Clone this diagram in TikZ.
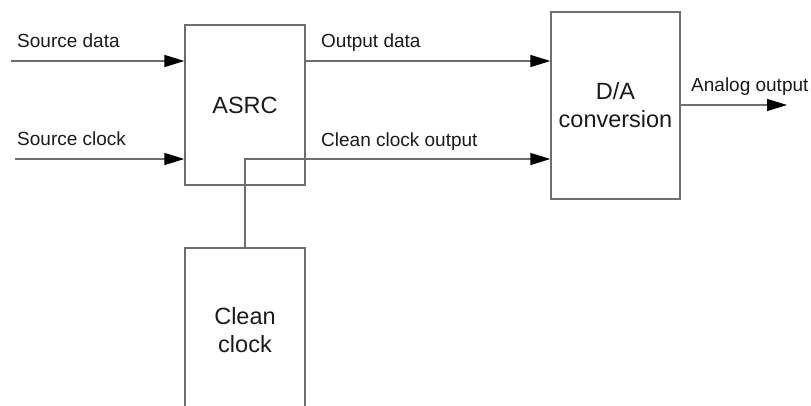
\documentclass[tikz,border=0pt]{standalone}
\usepackage{fontspec}
\setmainfont{Liberation Sans}
\usetikzlibrary{arrows.meta,calc}
\definecolor{linegray}{HTML}{6E6E6E}
\definecolor{textgray}{HTML}{1A1A1A}
\tikzset{
  blockbox/.style={draw=linegray, line width=1.3pt, inner sep=0pt, text=textgray,
    font=\fontsize{23.5}{28}\selectfont, align=center},
  conn/.style={draw=linegray, line width=1.3pt},
  arr/.style={conn, -{Triangle[length=20pt,width=12pt,color=black]}},
  lbl/.style={anchor=base west, inner sep=0pt, text=textgray, font=\fontsize{19}{22}\selectfont}
}
\begin{document}
\begin{tikzpicture}[x=1pt,y=1pt]
\useasboundingbox (0,0) rectangle (811,-405);
\clip (0,0) rectangle (811,-405);
\node[blockbox, minimum width=120pt, minimum height=160pt] (asrc) at (245,-105) {ASRC};
\node[blockbox, minimum width=129pt, minimum height=187pt] (da) at (615.5,-105.5) {D/A\\conversion};
\node[blockbox, minimum width=120pt, minimum height=164pt] (cc) at (245,-330) {Clean\\clock};
\coordinate (sd) at (11,-61);
\coordinate (sc) at (15,-159);
\coordinate (ao) at (787,-105);
\draw[arr] (sd) -- (sd -| asrc.west);
\draw[arr] (sc) -- (sc -| asrc.west);
\draw[arr] (sd -| asrc.east) -- (sd -| da.west);
\draw[arr] (cc.north) |- (sc -| da.west);
\draw[arr] (da.east |- ao) -- (ao);
\node[lbl] (lsd) at (17,-47) {Source data};
\node[lbl] (lsc) at (17,-145) {Source clock};
\node[lbl] (lod) at (321,-47) {Output data};
\node[lbl] (lcc) at (321,-146) {Clean clock output};
\node[lbl] (lao) at (691,-91) {Analog output};
\end{tikzpicture}
\end{document}
